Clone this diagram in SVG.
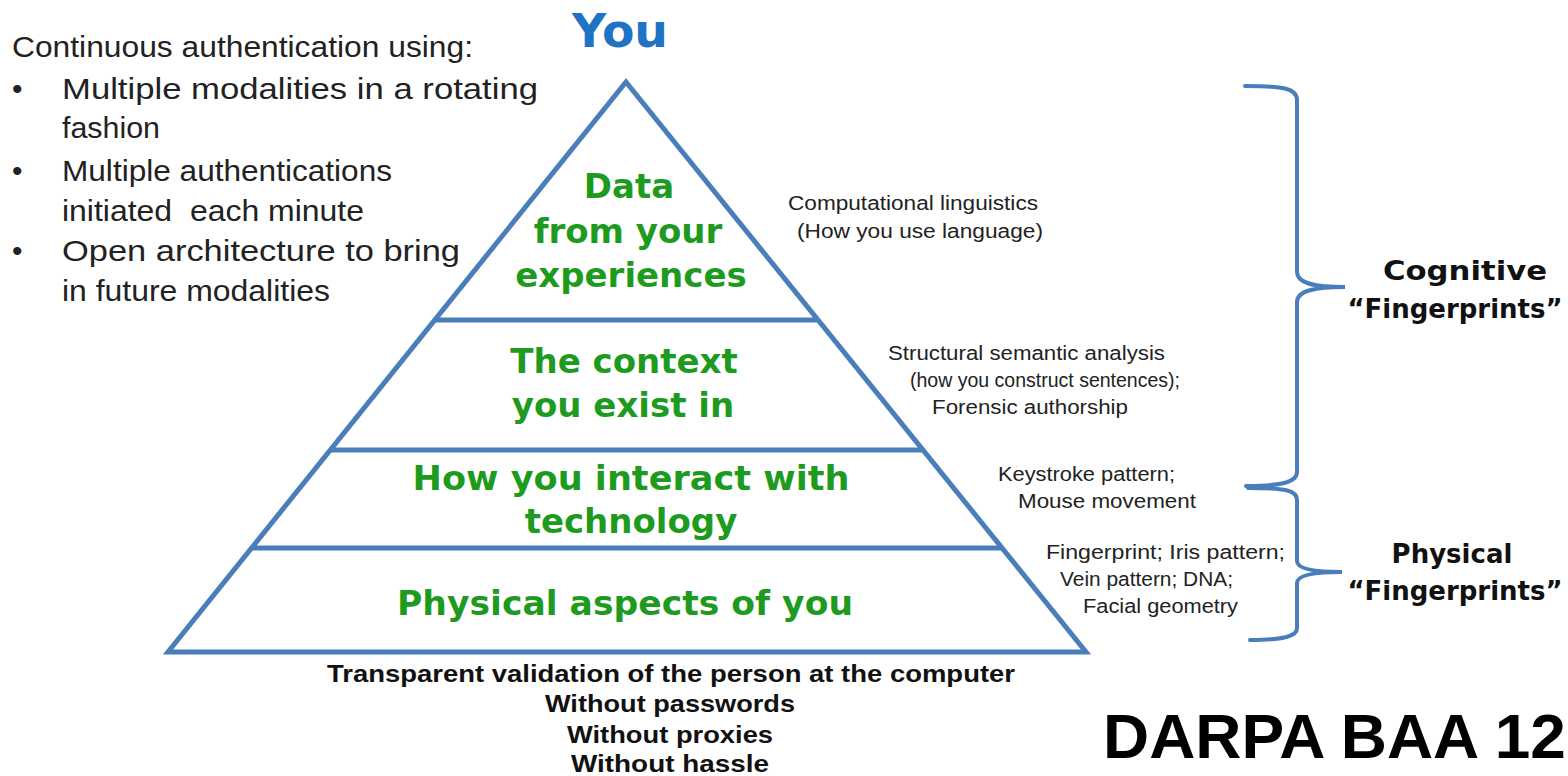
<svg xmlns="http://www.w3.org/2000/svg" width="1568" height="776" viewBox="0 0 1568 776">
<style>
.edge{fill:none;stroke:#4a7ebb;stroke-width:5;stroke-linejoin:miter}
.tier{font-family:"DejaVu Sans",sans-serif;font-weight:bold;font-size:34px;fill:#1e9b1e;text-anchor:middle}
.note{font-family:"Liberation Sans",Arial,sans-serif;font-size:20px;fill:#222}
.left{font-family:"Liberation Sans",Arial,sans-serif;font-size:30px;fill:#222}
.lbl{font-family:"DejaVu Sans",sans-serif;font-weight:bold;font-size:26px;fill:#111;text-anchor:middle}
.bottom{font-family:"Liberation Sans",Arial,sans-serif;font-weight:bold;font-size:24px;fill:#111;text-anchor:middle}
.brace{fill:none;stroke:#4a7ebb;stroke-width:4;stroke-linecap:round}
</style>
<rect width="1568" height="776" fill="#fff"/>

<g id="intro">
<text class="left" x="12" y="57" textLength="461" lengthAdjust="spacingAndGlyphs">Continuous authentication using:</text>
<text class="left" x="12" y="99">•</text>
<text class="left" x="62" y="99" textLength="476" lengthAdjust="spacingAndGlyphs">Multiple modalities in a rotating</text>
<text class="left" x="62" y="138" textLength="98" lengthAdjust="spacingAndGlyphs">fashion</text>
<text class="left" x="12" y="181">•</text>
<text class="left" x="62" y="181" textLength="330" lengthAdjust="spacingAndGlyphs">Multiple authentications</text>
<text class="left" x="62" y="221" textLength="302" lengthAdjust="spacingAndGlyphs">initiated&#160; each minute</text>
<text class="left" x="12" y="261">•</text>
<text class="left" x="62" y="261" textLength="398" lengthAdjust="spacingAndGlyphs">Open architecture to bring</text>
<text class="left" x="62" y="301" textLength="268" lengthAdjust="spacingAndGlyphs">in future modalities</text>
</g>

<g id="you">
<text x="620" y="47" font-family="DejaVu Sans, sans-serif" font-weight="bold" font-size="46" fill="#1f72c4" text-anchor="middle" textLength="96" lengthAdjust="spacingAndGlyphs">You</text>
</g>

<g id="pyramid">
<path class="edge" d="M626,82 L1086,652 L168,652 Z"/>
</g>

<g id="tier-experiences">
<path class="edge" d="M435,320 H818"/>
<text class="tier" x="629" y="198">Data</text>
<text class="tier" x="628" y="243">from your</text>
<text class="tier" x="631" y="287">experiences</text>
</g>

<g id="tier-context">
<path class="edge" d="M330,450 H923"/>
<text class="tier" x="624" y="373">The context</text>
<text class="tier" x="623" y="417">you exist in</text>
</g>

<g id="tier-interact">
<path class="edge" d="M252,548 H1002"/>
<text class="tier" x="631" y="490" textLength="437" lengthAdjust="spacingAndGlyphs">How you interact with</text>
<text class="tier" x="631" y="533">technology</text>
</g>

<g id="tier-physical">
<text class="tier" x="625" y="615" textLength="456" lengthAdjust="spacingAndGlyphs">Physical aspects of you</text>
</g>

<g id="notes">
<text class="note" x="788" y="210" textLength="250" lengthAdjust="spacingAndGlyphs">Computational linguistics</text>
<text class="note" x="797" y="238" textLength="246" lengthAdjust="spacingAndGlyphs">(How you use language)</text>
<text class="note" x="888" y="360" textLength="277" lengthAdjust="spacingAndGlyphs">Structural semantic analysis</text>
<text class="note" x="910" y="387" textLength="270" lengthAdjust="spacingAndGlyphs">(how you construct sentences);</text>
<text class="note" x="932" y="414" textLength="196" lengthAdjust="spacingAndGlyphs">Forensic authorship</text>
<text class="note" x="998" y="481" textLength="177" lengthAdjust="spacingAndGlyphs">Keystroke pattern;</text>
<text class="note" x="1018" y="508" textLength="178" lengthAdjust="spacingAndGlyphs">Mouse movement</text>
<text class="note" x="1046" y="559" textLength="239" lengthAdjust="spacingAndGlyphs">Fingerprint; Iris pattern;</text>
<text class="note" x="1060" y="586" textLength="173" lengthAdjust="spacingAndGlyphs">Vein pattern; DNA;</text>
<text class="note" x="1083" y="613" textLength="155" lengthAdjust="spacingAndGlyphs">Facial geometry</text>
</g>

<g id="connectors">
<path class="brace" d="M1245,86 C1282,86 1297,88 1297,100 L1297,272 C1297,282 1310,287 1345,287 C1310,287 1297,292 1297,302 L1297,472 C1297,482 1282,486 1246,486"/>
<path class="brace" d="M1248,488 C1285,488 1297,490 1297,500 L1297,561 C1297,568 1310,572 1342,572 C1310,572 1297,576 1297,583 L1297,628 C1297,636 1285,640 1250,640"/>
</g>

<g id="cognitive">
<text class="lbl" x="1465" y="280" textLength="164" lengthAdjust="spacingAndGlyphs">Cognitive</text>
<text class="lbl" x="1455" y="318">“Fingerprints”</text>
</g>

<g id="physical">
<text class="lbl" x="1452" y="563">Physical</text>
<text class="lbl" x="1455" y="600">“Fingerprints”</text>
</g>

<g id="bottom">
<text class="bottom" x="671" y="682" textLength="688" lengthAdjust="spacingAndGlyphs">Transparent validation of the person at the computer</text>
<text class="bottom" x="670" y="712" textLength="250" lengthAdjust="spacingAndGlyphs">Without passwords</text>
<text class="bottom" x="670" y="743" textLength="206" lengthAdjust="spacingAndGlyphs">Without proxies</text>
<text class="bottom" x="670" y="772" textLength="198" lengthAdjust="spacingAndGlyphs">Without hassle</text>
</g>

<g id="darpa">
<text x="1103" y="758" font-family="Liberation Sans, Arial, sans-serif" font-weight="bold" font-size="63" fill="#000" textLength="484" lengthAdjust="spacingAndGlyphs">DARPA BAA 12-</text>
</g>
</svg>
